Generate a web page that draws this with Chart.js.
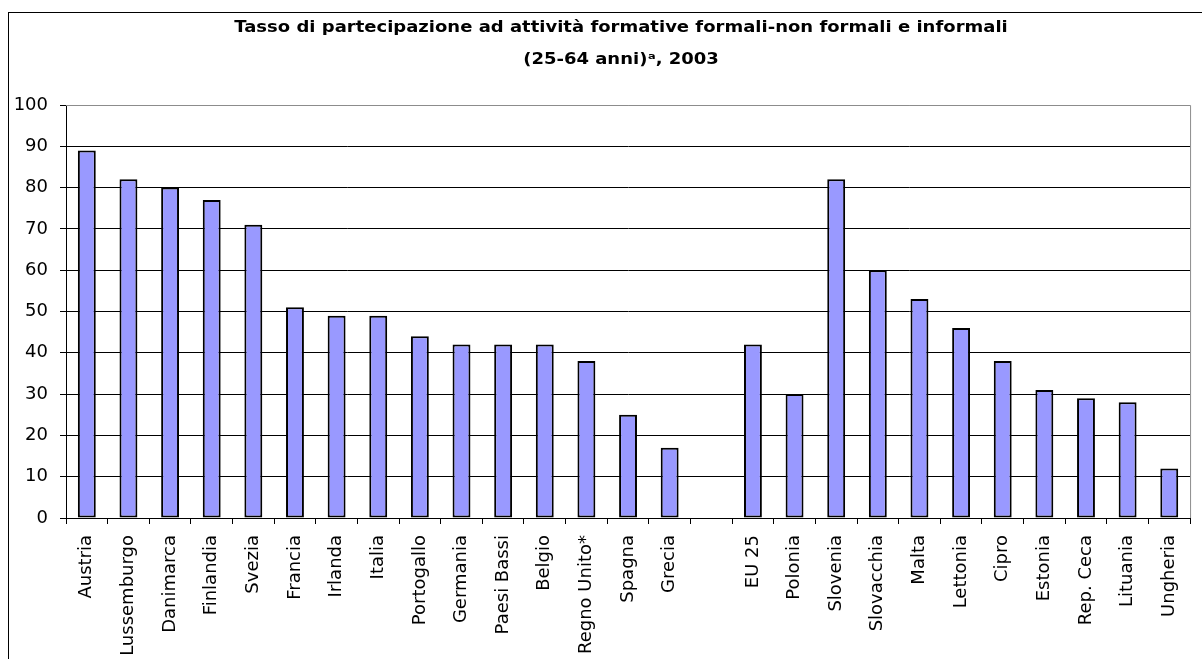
<!DOCTYPE html>
<html>
<head>
<meta charset="utf-8">
<script src="https://cdn.jsdelivr.net/npm/chart.js@4.4.1/dist/chart.umd.min.js"></script>
<style>
  html, body { margin: 0; padding: 0; background: #fff; overflow: hidden; }
  #wrap { position: absolute; left: 0; top: 0; width: 1202px; height: 659px; }
</style>
</head>
<body>
<div id="wrap"><canvas id="chart"></canvas></div>
<script>
const titleLines = [
  "Tasso di partecipazione ad attività formative formali-non formali e informali",
  "(25-64 anni)ᵃ, 2003",
];

const countries = [
  "Austria", "Lussemburgo", "Danimarca", "Finlandia", "Svezia", "Francia",
  "Irlanda", "Italia", "Portogallo", "Germania", "Paesi Bassi", "Belgio",
  "Regno Unito*", "Spagna", "Grecia", "",
  "EU 25", "Polonia", "Slovenia", "Slovacchia", "Malta", "Lettonia",
  "Cipro", "Estonia", "Rep. Ceca", "Lituania", "Ungheria",
];

const rates = [
  89, 82, 80, 77, 71, 51,
  49, 49, 44, 42, 42, 42,
  38, 25, 17, null,
  42, 30, 82, 60, 53, 46,
  38, 31, 29, 28, 12,
];

const yMin = 0;
const yMax = 100;
const yStep = 10;

// outer frame, the two title lines, plot border on top/right
const framePlugin = {
  id: "frame",
  beforeDraw(chart) {
    const ctx = chart.ctx;
    ctx.save();
    ctx.fillStyle = "#fff";
    ctx.fillRect(0, 0, chart.width, chart.height);
    ctx.strokeStyle = "#000";
    ctx.lineWidth = 1;
    ctx.strokeRect(8.5, 12.5, chart.width + 20, chart.height + 20);

    // the source text is a bit wider than tall, so stretch it a little
    ctx.fillStyle = "#000";
    ctx.font = "bold 15px 'DejaVu Sans'";
    ctx.textAlign = "center";
    ctx.textBaseline = "middle";
    const sx = 1.2;
    titleLines.forEach((line, i) => {
      ctx.save();
      ctx.translate(621, 28 + i * 32);
      ctx.scale(sx, 1);
      ctx.fillText(line, 0, 0);
      ctx.restore();
    });
    ctx.restore();
  },
  afterDatasetsDraw(chart) {
    const { ctx, chartArea } = chart;
    ctx.save();
    ctx.strokeStyle = "#8c8c8c";
    ctx.lineWidth = 1;
    ctx.beginPath();
    ctx.moveTo(chartArea.left, chartArea.top + 0.5);
    ctx.lineTo(chartArea.right + 0.5, chartArea.top + 0.5);
    ctx.lineTo(chartArea.right + 0.5, chartArea.bottom);
    ctx.stroke();
    ctx.restore();
  },
};

new Chart(document.getElementById("chart"), {
  type: "bar",
  data: {
    labels: countries,
    datasets: [
      {
        data: rates,
        backgroundColor: "#9999ff",
        borderColor: "#000",
        borderWidth: 2,
        borderSkipped: false,
        barPercentage: 0.43,
        categoryPercentage: 1,
      },
    ],
  },
  options: {
    responsive: true,
    maintainAspectRatio: false,
    animation: false,
    devicePixelRatio: 1,
    layout: { padding: { left: 0, right: 8, top: 105, bottom: 0 } },
    plugins: {
      legend: { display: false },
      tooltip: { enabled: false },
      title: { display: false },
    },
    scales: {
      x: {
        offset: true,
        afterFit: (scale) => { scale.height = 141; },
        grid: {
          offset: true,
          drawOnChartArea: false,
          drawTicks: true,
          tickLength: 6,
          color: "#000",
        },
        border: { display: true, color: "#000", width: 1 },
        ticks: {
          autoSkip: false,
          maxRotation: 90,
          minRotation: 90,
          padding: 11,
          color: "#000",
          font: { family: "DejaVu Sans", size: 18 },
        },
      },
      y: {
        min: yMin,
        max: yMax,
        afterFit: (scale) => { scale.width = 66; },
        grid: {
          color: (c) => (c.tick && c.tick.value === yMax ? "#8c8c8c" : "#000"),
          tickColor: "#000",
          tickLength: 6,
          lineWidth: 1,
        },
        border: { display: true, color: "#000", width: 1 },
        ticks: {
          stepSize: yStep,
          padding: 12,
          color: "#000",
          font: { family: "DejaVu Sans", size: 18 },
        },
      },
    },
  },
  plugins: [framePlugin],
});
</script>
</body>
</html>
